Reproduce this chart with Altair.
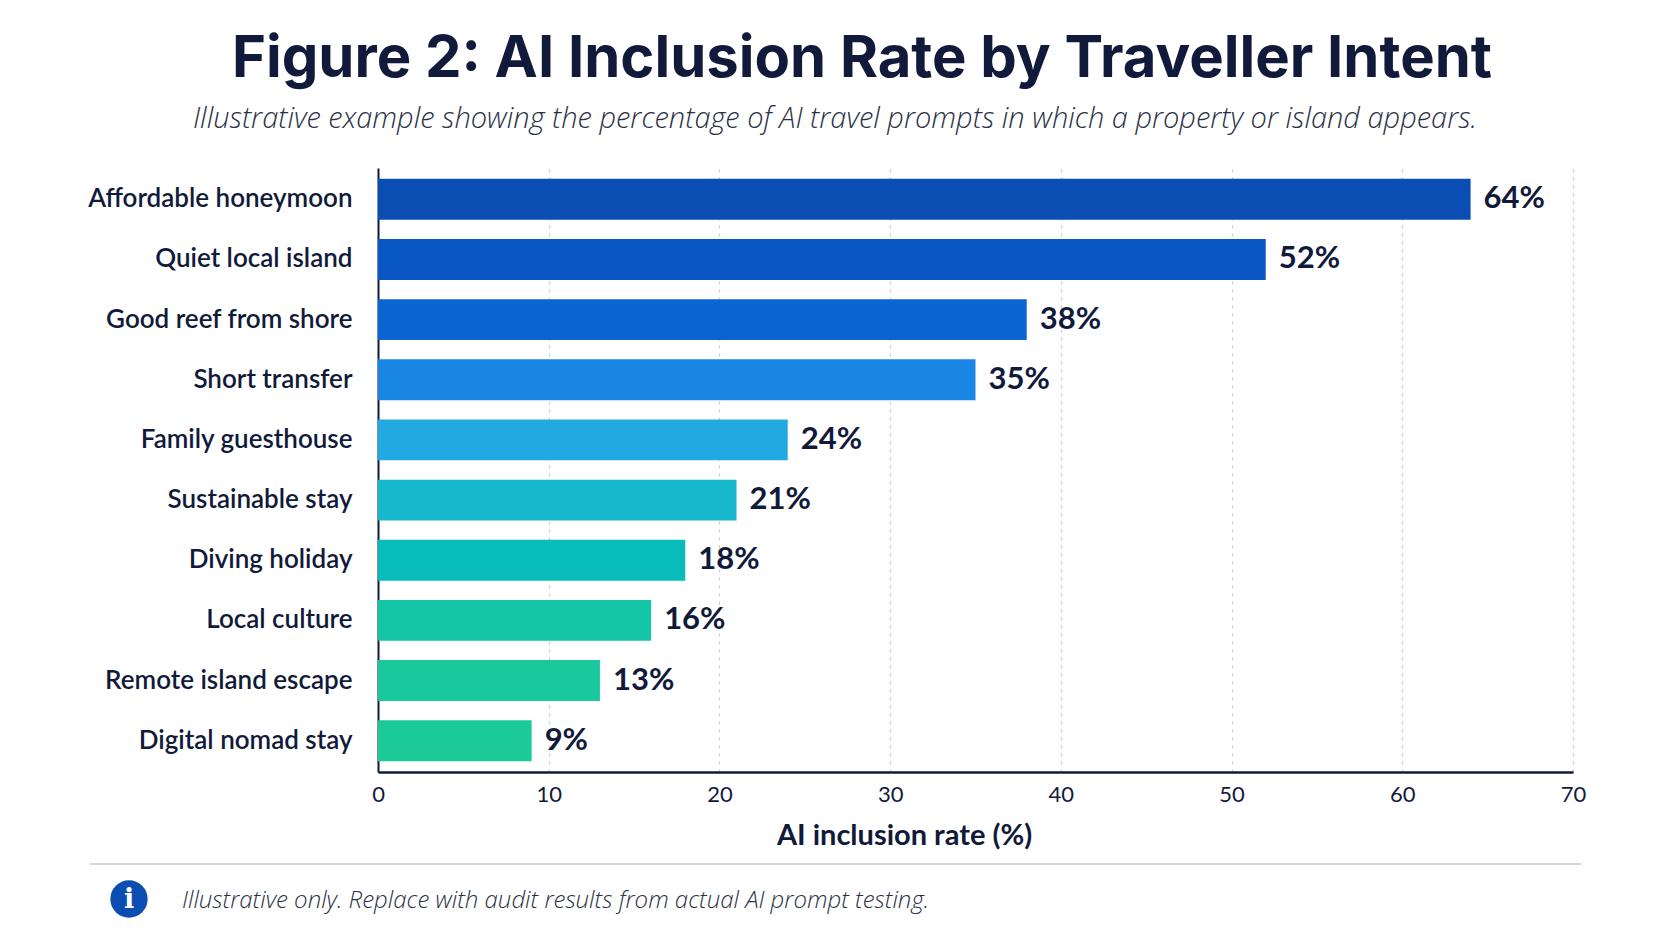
import altair as alt
import pandas as pd

categories = ["Affordable honeymoon", "Quiet local island", "Good reef from shore",
              "Short transfer", "Family guesthouse", "Sustainable stay",
              "Diving holiday", "Local culture", "Remote island escape",
              "Digital nomad stay"]
rates = [64, 52, 38, 35, 24, 21, 18, 16, 13, 9]
bar_colors = ["#0a4db3", "#0857c4", "#0a64d1", "#1a86e4", "#22a9e2",
              "#18b8cc", "#08bcbb", "#14c6a6", "#1ac89e", "#1bca97"]
x_ticks = [0, 10, 20, 30, 40, 50, 60, 70]
title_text = "Figure 2: AI Inclusion Rate by Traveller Intent"
subtitle_text = ("Illustrative example showing the percentage of AI travel prompts "
                 "in which a property or island appears.")
footer_text = "Illustrative only. Replace with audit results from actual AI prompt testing."
x_title = "AI inclusion rate (%)"

NAVY = "#111a3a"
W, H = 1195, 604

df = pd.DataFrame({"intent": categories, "rate": rates,
                   "label": [f"{r}%" for r in rates]})

y_enc = alt.Y("intent:N", sort=categories,
              scale=alt.Scale(paddingInner=0.32, paddingOuter=0.18),
              axis=alt.Axis(title=None, labelFont="Lato", labelFontSize=26,
                            labelFontWeight=600, labelColor=NAVY, labelPadding=26,
                            ticks=False, domainColor=NAVY, domainWidth=2, grid=False,
                            labelLimit=400))
x_enc = alt.X("rate:Q", scale=alt.Scale(domain=[0, 70], nice=False),
              axis=alt.Axis(values=x_ticks, title=x_title, titleFont="Lato",
                            titleFontSize=29, titleFontWeight="bold", titleColor=NAVY,
                            titleX=526, titleY=72, titleBaseline="alphabetic",
                            titleAnchor="middle", titleAlign="center",
                            labelFont="Lato", labelFontSize=22, labelColor=NAVY,
                            labelPadding=12, labelFlush=False, ticks=False, tickSize=0,
                            domainColor=NAVY, domainWidth=2.5, grid=True,
                            gridColor="#c9ccd2", gridDash=[3, 5], gridWidth=1.2))

bars = alt.Chart(df).mark_bar().encode(
    x=x_enc, y=y_enc,
    color=alt.Color("intent:N", scale=alt.Scale(domain=categories, range=bar_colors),
                    legend=None),
)

values = alt.Chart(df).mark_text(align="left", baseline="middle", dx=13, font="Lato",
                                 fontSize=31, fontWeight="bold", color=NAVY).encode(
    x="rate:Q", y=alt.Y("intent:N", sort=categories), text="label:N")

tdf = pd.DataFrame({"t": [title_text]})
title = alt.Chart(tdf).mark_text(align="center", baseline="alphabetic", font="Inter",
                                 fontSize=58, fontWeight="bold", color=NAVY).encode(
    x=alt.value(484), y=alt.value(77 - 168), text="t:N")

sdf = pd.DataFrame({"t": [subtitle_text]})
subtitle = alt.Chart(sdf).mark_text(align="center", baseline="alphabetic", font="Open Sans",
                                    fontSize=29, fontStyle="italic", fontWeight=300,
                                    color="#2a3145").encode(
    x=alt.value(457), y=alt.value(128 - 168), text="t:N")

sep = alt.Chart(tdf).mark_rule(color="#d3d6dd", strokeWidth=2).encode(
    x=alt.value(90 - 378), x2=alt.value(1581 - 378), y=alt.value(864 - 168))

icon = alt.Chart(tdf).mark_point(filled=True, shape="circle", size=1390,
                                 color="#0b4db0", opacity=1).encode(
    x=alt.value(129 - 378), y=alt.value(899 - 168))

idf = pd.DataFrame({"t": ["i"]})
icon_i = alt.Chart(idf).mark_text(align="center", baseline="middle", font="DejaVu Serif",
                                  fontSize=27, fontWeight="bold", color="white").encode(
    x=alt.value(129 - 378), y=alt.value(900 - 168), text="t:N")

fdf = pd.DataFrame({"t": [footer_text]})
footer = alt.Chart(fdf).mark_text(align="left", baseline="alphabetic", font="Open Sans",
                                  fontSize=24, fontStyle="italic", fontWeight=300,
                                  color="#2a3145").encode(
    x=alt.value(182 - 378), y=alt.value(908 - 168), text="t:N")

chart = alt.layer(bars, values, title, subtitle, sep, icon, icon_i, footer).properties(
    width=W, height=H,
    autosize=alt.AutoSizeParams(type="none"),
    padding={"left": 370, "top": 160, "right": 83, "bottom": 155},
    background="white",
).configure_view(stroke=None)

chart.save("out.html", embed_options={"renderer": "svg", "actions": False})
